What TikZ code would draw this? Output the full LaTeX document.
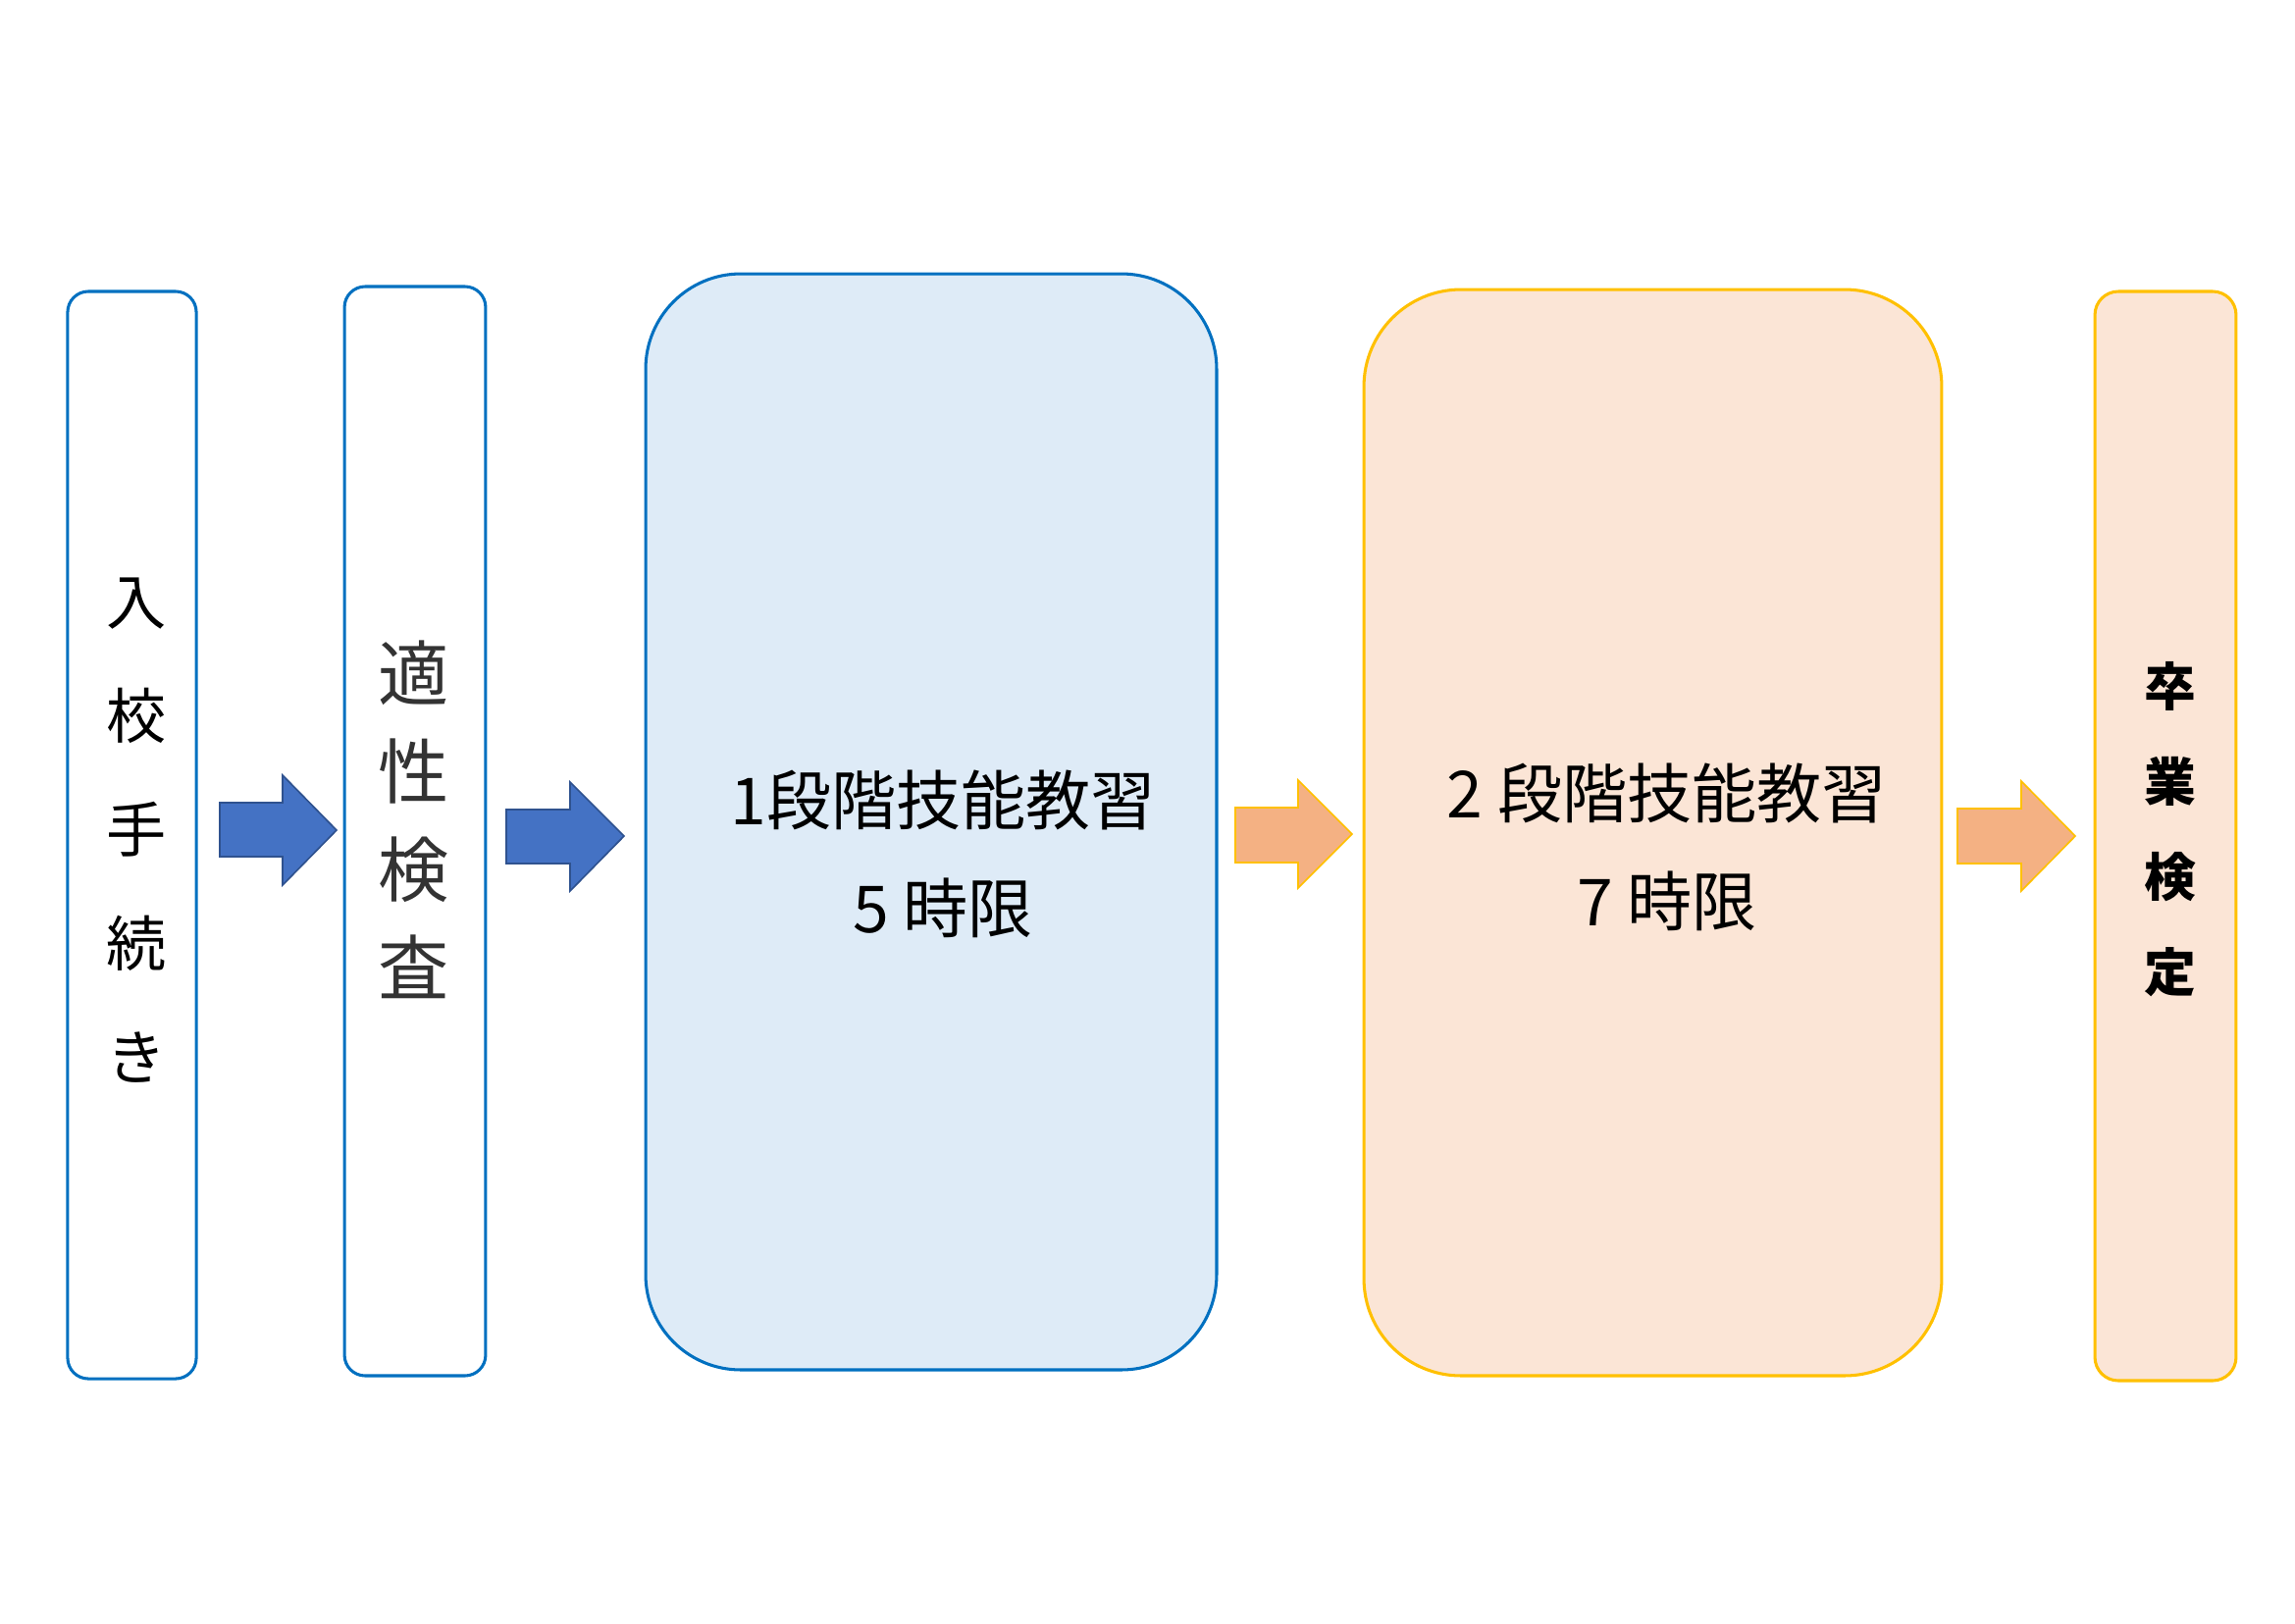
\documentclass[tikz,border=0pt]{standalone}
\usepackage{fontspec}
\newfontfamily\jp{Noto Sans CJK JP}
\definecolor{bline}{HTML}{0070C0}
\definecolor{bfill}{HTML}{DEEBF7}
\definecolor{oline}{HTML}{FFC000}
\definecolor{ofill}{HTML}{FBE5D6}
\definecolor{barrow}{HTML}{4472C4}
\definecolor{barrowline}{HTML}{2F528F}
\definecolor{oarrow}{HTML}{F4B183}
\definecolor{gtext}{HTML}{333333}
\tikzset{
  boxbase/.style={rectangle, inner sep=0pt, outer sep=0pt, line width=1.1pt},
  bluebox/.style={boxbase, draw=bline, fill=white},
  bluebigbox/.style={boxbase, draw=bline, fill=bfill},
  orangebox/.style={boxbase, draw=oline, fill=ofill},
  blockblue/.style={fill=barrow, draw=barrowline, line width=0.6pt, line join=miter},
  blockorange/.style={fill=oarrow, draw=oline, line width=0.6pt, line join=miter},
  lbl/.style={inner sep=0pt, align=center},
}
\begin{document}
\begin{tikzpicture}[x=0.36pt, y=-0.36pt]
\useasboundingbox (0,0) rectangle (2339,1654);
% boxes
\node[bluebox, rounded corners=7.6pt, minimum width=47.2pt, minimum height=398.9pt] (b1) at (134.5,851) {};
\node[bluebox, rounded corners=7.6pt, minimum width=51.8pt, minimum height=399.6pt] (b2) at (423,847) {};
\node[bluebigbox, rounded corners=34.9pt, minimum width=209.5pt, minimum height=402.1pt] (b3) at (949,837.5) {};
\node[orangebox, rounded corners=35.6pt, minimum width=212.0pt, minimum height=398.5pt] (b4) at (1684.5,848.5) {};
\node[orangebox, rounded corners=8.6pt, minimum width=51.8pt, minimum height=399.6pt] (b5) at (2207,852) {};
% texts
\node[lbl, font=\jp\fontsize{22}{41.8}\selectfont] (t1) at (139,846) {入\\校\\手\\続\\き};
\node[lbl, text=gtext, font=\jp\fontsize{26}{36}\selectfont] (t2) at (422,835) {適\\性\\検\\査};
\node[lbl, font=\jp\fontsize{23.8}{39.6}\selectfont] (t3) at (961,870) {1段階技能教習\\5 時限};
\node[lbl, font=\jp\fontsize{23.8}{39.6}\selectfont] (t4) at (1699,863) {2 段階技能教習\\7 時限};
\node[lbl, font=\jp\bfseries\fontsize{19}{35}\selectfont] (t5) at (2212,845) {卒\\業\\検\\定};
% block arrows
\draw[blockblue] (224,818) -- (288,818) -- (288,790) -- (343,846) -- (288,902) -- (288,873) -- (224,873) -- cycle;
\draw[blockblue] (516,825) -- (581,825) -- (581,797) -- (636,852) -- (581,908) -- (581,880) -- (516,880) -- cycle;
\draw[blockorange] (1259,823) -- (1323,823) -- (1323,795) -- (1378,850) -- (1323,905) -- (1323,879) -- (1259,879) -- cycle;
\draw[blockorange] (1995,824) -- (2060,824) -- (2060,796) -- (2115,852) -- (2060,908) -- (2060,880) -- (1995,880) -- cycle;
\end{tikzpicture}
\end{document}
